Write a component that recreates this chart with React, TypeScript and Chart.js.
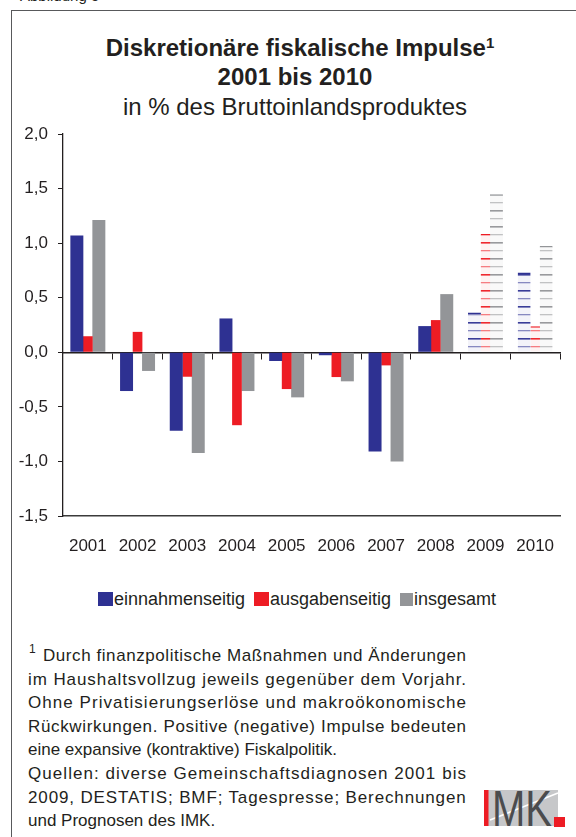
import React, { useEffect, useRef } from 'react';
import { Chart, registerables } from 'chart.js';

Chart.register(...registerables);

const years = ['2001', '2002', '2003', '2004', '2005', '2006', '2007', '2008', '2009', '2010'];
const einnahmenseitig = [1.07, -0.355, -0.72, 0.31, -0.08, -0.027, -0.91, 0.24, 0.365, 0.73];
const ausgabenseitig = [0.147, 0.187, -0.224, -0.668, -0.337, -0.227, -0.12, 0.295, 1.084, 0.239];
const insgesamt = [1.213, -0.171, -0.922, -0.355, -0.413, -0.266, -1.0, 0.533, 1.449, 0.974];
const isForecast = [false, false, false, false, false, false, false, false, true, true];
const seriesNames = ['einnahmenseitig', 'ausgabenseitig', 'insgesamt'];
const yMin = -1.5;
const yMax = 2.0;
const yStep = 0.5;

const titleLine1 = 'Diskretionäre fiskalische Impulse';
const titleLine2 = '2001 bis 2010';
const titleLine3 = 'in % des Bruttoinlandsproduktes';
const footnoteLines = [
  'Durch finanzpolitische Maßnahmen und Änderungen',
  'im Haushaltsvollzug jeweils gegenüber dem Vorjahr.',
  'Ohne Privatisierungserlöse und makroökonomische',
  'Rückwirkungen. Positive (negative) Impulse bedeuten',
  'eine expansive (kontraktive) Fiskalpolitik.',
  'Quellen: diverse Gemeinschaftsdiagnosen 2001 bis',
  '2009, DESTATIS; BMF; Tagespresse; Berechnungen',
  'und Prognosen des IMK.',
];
const footnoteJustified = [true, true, true, true, false, true, true, false];

const BLUE = '#2e3192';
const RED = '#ed1c24';
const GRAY = '#939598';
const TEXT = '#231f20';
const FONT = '"Liberation Sans", Arial, Helvetica, sans-serif';

let measureCtx: CanvasRenderingContext2D | null = null;
function measure(text: string, font: string) {
  if (!measureCtx) measureCtx = document.createElement('canvas').getContext('2d');
  measureCtx!.font = font;
  return measureCtx!.measureText(text).width;
}

function makePattern(ctx: CanvasRenderingContext2D, color: string) {
  const tile = document.createElement('canvas');
  tile.width = 8;
  tile.height = 16;
  const g = tile.getContext('2d')!;
  g.fillStyle = '#ffffff';
  g.fillRect(0, 0, 8, 16);
  g.fillStyle = color;
  g.globalAlpha = 0.06;
  g.fillRect(0, 0, 8, 16);
  g.globalAlpha = 0.95;
  g.fillRect(0, 4, 8, 1.6);
  g.globalAlpha = 0.55;
  g.fillRect(0, 12, 8, 1.3);
  return ctx.createPattern(tile, 'repeat')!;
}

function BarChart() {
  const ref = useRef<HTMLCanvasElement | null>(null);
  useEffect(() => {
    const canvas = ref.current!;
    const ctx = canvas.getContext('2d')!;
    const colors = [BLUE, RED, GRAY];
    const values = [einnahmenseitig, ausgabenseitig, insgesamt];
    const widths = [1.18, 0.88, 1.18];
    const datasets = values.map((vals, i) => {
      const pat = makePattern(ctx, colors[i]);
      return {
        label: seriesNames[i],
        data: vals,
        backgroundColor: (c: any) => (isForecast[c.dataIndex] ? pat : colors[i]),
        borderColor: colors[i],
        borderWidth: (c: any) =>
          isForecast[c.dataIndex] ? { top: 1.5, left: 0, right: 0, bottom: 0 } : 0,
        borderSkipped: 'start',
        barPercentage: widths[i],
        categoryPercentage: 0.664,
      };
    });
    const chart = new Chart(canvas, {
      type: 'bar',
      data: { labels: years, datasets: datasets as any },
      options: {
        animation: false,
        responsive: false,
        events: [],
        layout: { padding: { left: 18, right: 16, top: 24, bottom: 0 } },
        plugins: {
          legend: { display: false },
          title: { display: false },
          tooltip: { enabled: false },
        },
        scales: {
          x: {
            type: 'category',
            position: 'bottom',
            grid: { display: false, drawTicks: false },
            border: { display: true, color: '#3b3b3b', width: 1.6 },
            ticks: {
              color: TEXT,
              font: { family: FONT, size: 17 },
              padding: 20,
              maxRotation: 0,
              autoSkip: false,
            },
            afterFit: (s: any) => {
              s.height = 50;
            },
          },
          x2: {
            type: 'category',
            position: { y: 0 },
            offset: true,
            grid: {
              offset: true,
              drawOnChartArea: false,
              drawTicks: true,
              tickLength: 6,
              color: TEXT,
              lineWidth: 1,
            },
            border: { display: true, color: TEXT, width: 1.5 },
            ticks: { display: false },
            afterFit: (s: any) => {
              s.height = 0;
            },
          },
          y: {
            min: yMin,
            max: yMax,
            ticks: {
              stepSize: yStep,
              callback: (v: any) => Number(v).toFixed(1).replace('.', ','),
              color: TEXT,
              font: { family: FONT, size: 17 },
              padding: 10,
            },
            grid: { drawOnChartArea: false, drawTicks: true, tickLength: 5, color: TEXT },
            border: { display: true, color: TEXT, width: 1.3 },
            afterFit: (s: any) => {
              s.width = 45;
            },
          },
        } as any,
      },
    });
    return () => chart.destroy();
  }, []);
  return (
    <canvas
      ref={ref}
      width={576}
      height={456}
      style={{ position: 'absolute', left: 0, top: 110, width: 576, height: 456, display: 'block' }}
    />
  );
}

function Legend() {
  const colors = [BLUE, RED, GRAY];
  const boxes = [
    { w: 15, h: 14 },
    { w: 15, h: 14 },
    { w: 13, h: 13 },
  ];
  return (
    <div
      style={{
        position: 'absolute',
        left: 0,
        top: 588,
        width: 594,
        display: 'flex',
        justifyContent: 'center',
        alignItems: 'center',
        fontFamily: FONT,
        fontSize: 18,
        color: TEXT,
        lineHeight: '22px',
      }}
    >
      {seriesNames.map((n, i) => (
        <div key={n} style={{ display: 'flex', alignItems: 'center', marginRight: i < 2 ? 9 : 0 }}>
          <span
            style={{
              display: 'inline-block',
              width: boxes[i].w,
              height: boxes[i].h,
              background: colors[i],
              marginRight: 1,
            }}
          />
          <span>{n}</span>
        </div>
      ))}
    </div>
  );
}

function Logo() {
  return (
    <svg
      width={84}
      height={40}
      style={{ position: 'absolute', left: 484, top: 789 }}
      viewBox="0 0 84 40"
    >
      <rect x={0} y={1} width={74} height={36} fill="#c6c7c9" />
      <line x1={6} y1={31} x2={74} y2={4} stroke="#ffffff" strokeWidth={1.6} />
      <text
        x={8}
        y={37}
        fontFamily={FONT}
        fontSize={50}
        fill="#4b4c4e"
        textLength={60}
        lengthAdjust="spacingAndGlyphs"
      >
        MK
      </text>
      <rect x={0} y={1} width={4.5} height={36} fill={RED} />
      <rect x={70} y={28} width={11} height={10} fill={RED} />
    </svg>
  );
}

function Footnote() {
  const fontSize = 17;
  const font = `${fontSize}px "Liberation Sans"`;
  const left = 28;
  const right = 466;
  const top = 644;
  const lh = 23.6;
  return (
    <>
      {footnoteLines.map((l, i) => {
        const start = i === 0 ? 43 : left;
        const target = right - start;
        const w = measure(l, font);
        const ls = footnoteJustified[i] ? Math.max(0, (target - w) / Math.max(1, l.length - 1)) : 0;
        return (
          <div
            key={i}
            style={{
              position: 'absolute',
              left: start,
              top: top + i * lh,
              fontFamily: FONT,
              fontSize,
              lineHeight: `${lh}px`,
              color: TEXT,
              whiteSpace: 'nowrap',
              letterSpacing: `${ls}px`,
            }}
          >
            {l}
          </div>
        );
      })}
      <div
        style={{
          position: 'absolute',
          left: 29,
          top: top - 6,
          fontFamily: FONT,
          fontSize: 12,
          lineHeight: `${lh}px`,
          color: TEXT,
        }}
      >
        1
      </div>
    </>
  );
}

export default function App() {
  const lineStyle = (top: number, bold: boolean): React.CSSProperties => ({
    position: 'absolute',
    left: 0,
    top,
    width: 590,
    textAlign: 'center',
    fontFamily: FONT,
    fontSize: 24,
    fontWeight: bold ? 'bold' : 'normal',
    lineHeight: '24px',
    color: TEXT,
    whiteSpace: 'nowrap',
  });
  return (
    <div
      style={{
        position: 'fixed',
        left: 0,
        top: 0,
        width: 576,
        height: 837,
        overflow: 'hidden',
        background: '#ffffff',
        fontFamily: FONT,
      }}
    >
      <div
        style={{
          position: 'absolute',
          left: 20,
          top: -12,
          fontFamily: FONT,
          fontSize: 15,
          lineHeight: '15px',
          color: TEXT,
        }}
      >
        Abbildung 5
      </div>
      <div
        style={{
          position: 'absolute',
          left: 11,
          top: 10,
          width: 700,
          height: 900,
          borderLeft: '1.6px solid #58595b',
          borderTop: '1.6px solid #58595b',
        }}
      />
      <div style={{ ...lineStyle(36, true), width: 600 }}>
        {titleLine1}
        <span style={{ fontSize: 15, position: 'relative', top: -8 }}>1</span>
      </div>
      <div style={lineStyle(65, true)}>{titleLine2}</div>
      <div style={lineStyle(95, false)}>{titleLine3}</div>
      <BarChart />
      <Legend />
      <Footnote />
      <Logo />
    </div>
  );
}
